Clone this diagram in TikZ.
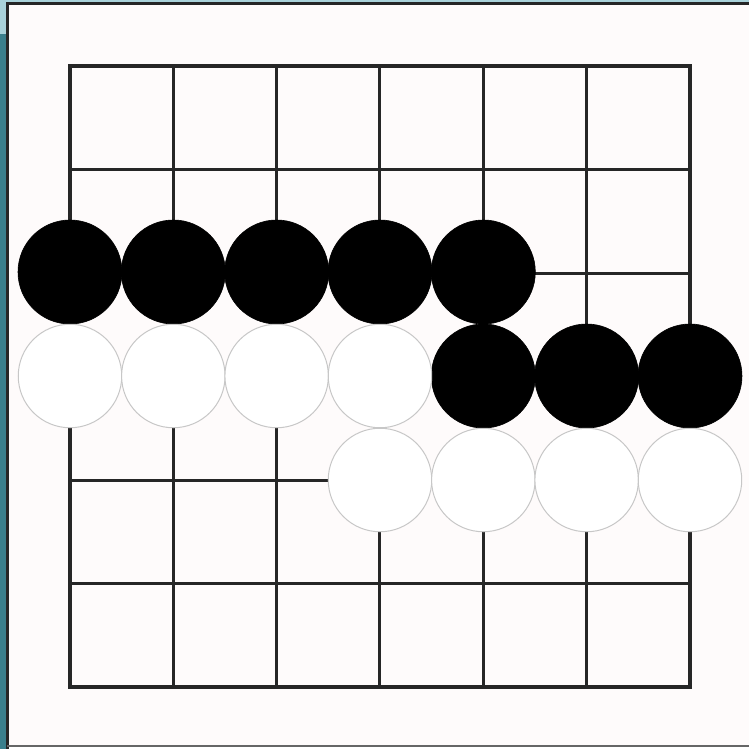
\documentclass[tikz,border=0pt]{standalone}
\begin{document}
\begin{tikzpicture}[x=1pt,y=-1pt,
  gridline/.style={line width=3pt,draw=black!85},
  borderline/.style={line width=4pt,draw=black!85},
  bstone/.style={circle,fill=black,draw=black,line width=0.6pt,minimum size=104pt,inner sep=0pt},
  wstone/.style={circle,fill=white,draw=black!22,line width=1pt,minimum size=103.5pt,inner sep=0pt}]
\definecolor{teal1}{HTML}{3A7F8C}
\definecolor{lblue}{HTML}{A9D2DA}
\definecolor{panel}{HTML}{FEFBFB}
\useasboundingbox (0,0) rectangle (749,749);
% frame
\fill[teal1] (0,0) rectangle (7,749);
\fill[lblue] (0,0) rectangle (7,34);
\fill[lblue] (0,0) rectangle (749,2);
\fill[panel] (7,3) rectangle (749,746);
\draw[line width=2.5pt,black!85] (7.5,749) -- (7.5,3.5) -- (749,3.5);
\draw[line width=1.5pt,black!60] (7,746) -- (749,746);
% grid
\foreach \i in {1,...,5}{
  \draw[gridline] ({70+103.33*\i},66) -- ({70+103.33*\i},687);
  \draw[gridline] (70,{66+103.5*\i}) -- (690,{66+103.5*\i});
}
\draw[borderline] (70,66) rectangle (690,687);
% stones
\foreach \c in {0,...,4}{
  \node[bstone] (b2\c) at ({70+103.33*\c},272) {};
}
\foreach \c in {4,5,6}{
  \node[bstone] (b3\c) at ({70+103.33*\c},376) {};
}
\foreach \c in {0,...,3}{
  \node[wstone] (w3\c) at ({70+103.33*\c},376) {};
}
\foreach \c in {3,...,6}{
  \node[wstone] (w4\c) at ({70+103.33*\c},480) {};
}
\end{tikzpicture}
\end{document}
